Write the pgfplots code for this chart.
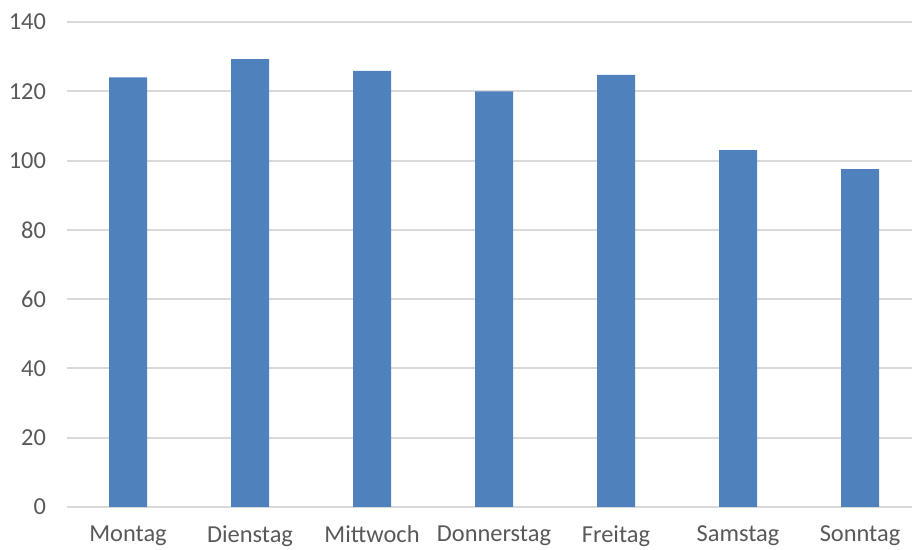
\documentclass[border=0pt]{standalone}
\usepackage{fontspec}
\setmainfont{Carlito}
\usepackage{pgfplots}
\pgfplotsset{compat=1.18}
\definecolor{barblue}{HTML}{4F81BD}
\definecolor{gridgrey}{HTML}{D9D9D9}
\definecolor{labelgrey}{HTML}{595959}
\begin{document}
\begin{tikzpicture}
\begin{axis}[
  at={(0,0)}, anchor=south west,
  scale only axis,
  width=422.5pt, height=242.5pt,
  xmin=-0.5, xmax=6.426,
  ymin=0, ymax=140,
  ytick={0,20,...,140},
  xtick={0,1,2,3,4,5,6},
  xticklabels={Montag,Dienstag,Mittwoch,Donnerstag,Freitag,Samstag,Sonntag},
  axis line style={draw=none},
  major tick length=0pt,
  ymajorgrids,
  grid style={gridgrey, line width=1pt},
  ticklabel style={font=\fontsize{12.2}{14}\selectfont, text=labelgrey},
  /pgf/number format/assume math mode=true,
  yticklabel style={anchor=east, xshift=-7pt},
  xticklabel style={anchor=north, yshift=-6pt},
  clip=false,
]
\addplot[ybar, bar width=19pt, fill=barblue, draw=none] coordinates {
  (0,124.0) (1,129.3) (2,125.9) (3,120.0) (4,124.7) (5,103.0) (6,97.5)
};
\end{axis}
\pgfresetboundingbox
\path[use as bounding box] (-33.5pt,-21.5pt) rectangle (422.5pt,253.5pt);
\end{tikzpicture}
\end{document}
